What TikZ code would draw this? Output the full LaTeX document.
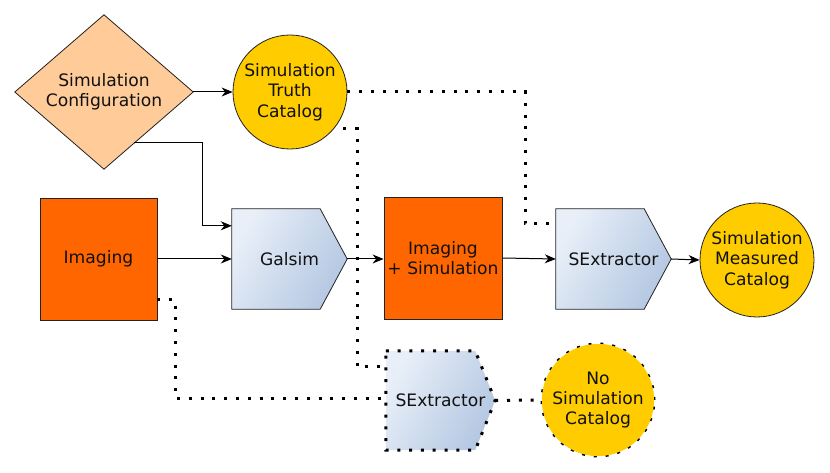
\documentclass[tikz,border=0pt]{standalone}
\usepackage{fontspec}
\setmainfont{DejaVu Sans}
\usetikzlibrary{arrows.meta,backgrounds,calc}
\definecolor{peach}{HTML}{FFCC99}
\definecolor{gold}{HTML}{FFCC00}
\definecolor{orng}{HTML}{FF6600}
\definecolor{bluelt}{HTML}{E8EFF8}
\definecolor{bluedk}{HTML}{B4C7E2}
\definecolor{edge}{HTML}{222222}
\definecolor{txt}{HTML}{111111}
\begin{document}
\begin{tikzpicture}[x=1bp,y=-1bp,
  lbl/.style={font=\fontsize{17.2}{20.5}\selectfont, align=center, inner sep=0pt, text=txt},
  orangebox/.style={lbl, rectangle, draw=edge, fill=orng, line width=0.8bp},
  circ/.style={lbl, circle, draw=edge, fill=gold, line width=0.8bp, minimum size=114bp},
  flow/.style={draw=black, line width=1bp, -{Stealth[length=11bp,width=9bp,inset=3.5bp]}},
  dotline/.style={draw=black, line width=3bp, line cap=butt, dash pattern=on 3bp off 8.8bp},
  procfill/.style={left color=bluelt, right color=bluedk, shading angle=60}
]
\useasboundingbox (0,0) rectangle (830,473);

% nodes
\node[lbl, minimum width=178bp, minimum height=154bp] (cfg) at (104,92) {Simulation\\Configuration};
\node[circ] (truth) at (290,92) {Simulation\\Truth\\Catalog};
\node[orangebox, minimum width=117bp, minimum height=122bp] (img) at (98.5,259) {Imaging};
\node[lbl, minimum width=115bp, minimum height=100bp] (gal) at (289.5,259) {Galsim};
\node[orangebox, minimum width=118bp, minimum height=122bp] (imsim) at (443,258) {Imaging\\+ Simulation};
\node[lbl, minimum width=115bp, minimum height=100bp] (sex) at (613.5,259) {SExtractor};
\node[circ] (meas) at (757,260) {Simulation\\Measured\\Catalog};
\node[lbl, minimum width=109bp, minimum height=99bp] (sex2) at (440.5,400.5) {SExtractor};
\node[circ, draw=none, minimum size=112bp] (nosim) at (598,400) {No\\Simulation\\Catalog};

% shapes behind text
\begin{scope}[on background layer]
  \filldraw[fill=peach, draw=edge, line width=0.8bp] (cfg.north) -- (cfg.east) -- (cfg.south) -- (cfg.west) -- cycle;
  \shadedraw[procfill, draw=edge, line width=0.8bp] (gal.north west) -- ([xshift=-27bp]gal.north east) -- (gal.east) -- ([xshift=-27bp]gal.south east) -- (gal.south west) -- cycle;
  \shadedraw[procfill, draw=edge, line width=0.8bp] (sex.north west) -- ([xshift=-27bp]sex.north east) -- (sex.east) -- ([xshift=-27bp]sex.south east) -- (sex.south west) -- cycle;
  \shade[procfill] (sex2.north west) -- ([xshift=-20bp]sex2.north east) -- (sex2.east) -- ([xshift=-20bp]sex2.south east) -- (sex2.south west) -- cycle;
  \draw[dotline] (sex2.north west) -- ([xshift=-20bp]sex2.north east) -- (sex2.east) -- ([xshift=-20bp]sex2.south east) -- (sex2.south west) -- cycle;
  \fill[gold] (nosim.center) circle[radius=56bp];
  \draw[dotline] (nosim.center) circle[radius=56bp];
\end{scope}

% solid connectors
\coordinate (cs) at ($(cfg.east)!0.66!(cfg.south)$);
\coordinate (gin) at ([yshift=-17bp]gal.north west);
\draw[flow] (cfg.east) -- (truth.west);
\draw[flow] (cs) -- ++(68,0) |- (gin);
\draw[flow] (img.east) -- (gal.west);
\draw[flow] (gal.east) -- (gal.east -| imsim.west);
\draw[flow] (imsim.east) -- (sex.west);
\draw[flow] (sex.east) -- (meas.west);

% dotted connectors
\coordinate (s1) at ([yshift=-15bp]sex.north west);
\coordinate (s2) at ([yshift=-16bp]sex2.north west);
\coordinate (s3) at ([yshift=2bp]sex2.west);
\coordinate (i1) at ([yshift=-41bp]img.east);
\draw[dotline] (truth.east) -- ++(178,0) |- (s1);
\draw[dotline] (truth.-35) ++(6,4) -- ++(14,0) |- (s2);
\draw[dotline] (i1) -- ++(18,0) |- (s3);
\draw[dotline] (sex2.east) -- (nosim.west);
\end{tikzpicture}
\end{document}
